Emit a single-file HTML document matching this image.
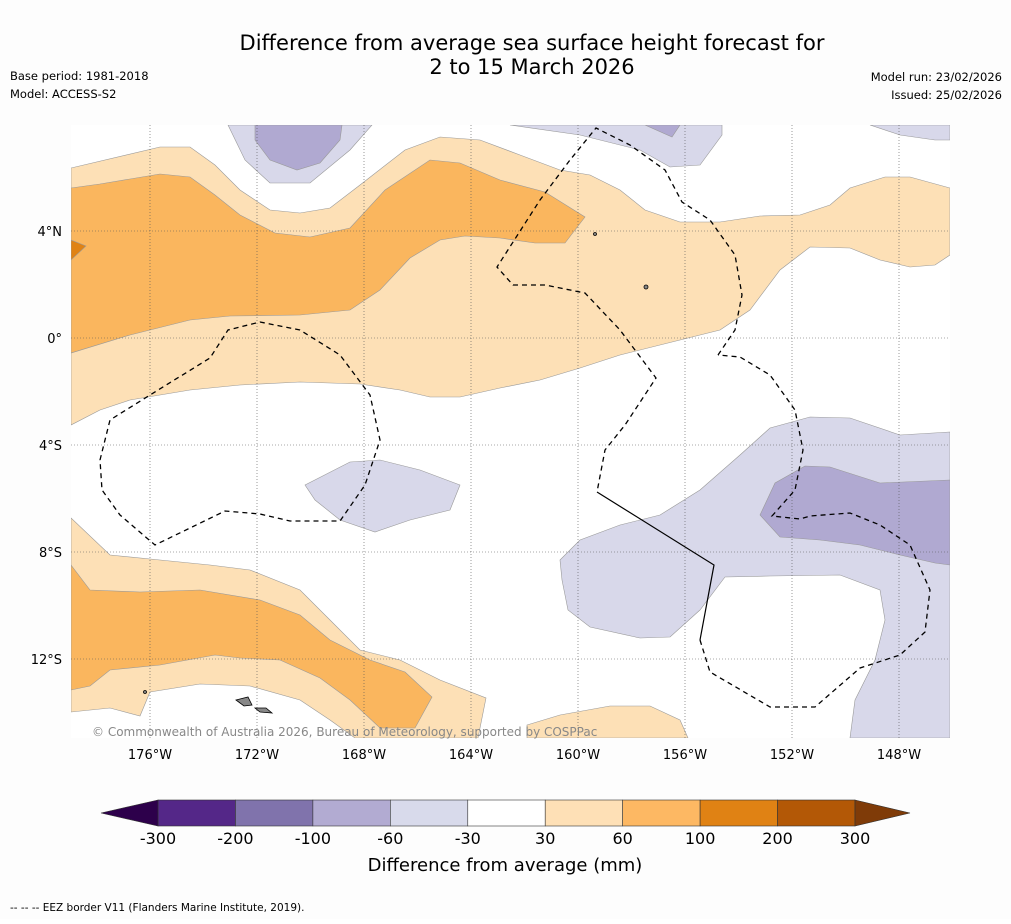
<!DOCTYPE html>
<html><head><meta charset="utf-8"><style>
body{margin:0;background:#fff;font-family:"Liberation Sans","DejaVu Sans",sans-serif}
svg text{font-family:"DejaVu Sans","Liberation Sans",sans-serif}
</style></head><body>
<svg id="chart" width="1011" height="919" viewBox="0 0 1011 919" xmlns="http://www.w3.org/2000/svg">
<rect width="1011" height="919" fill="#fdfdfd"/>
<text x="532" y="50" font-size="21" text-anchor="middle">Difference from average sea surface height forecast for</text>
<text x="532" y="74" font-size="21" text-anchor="middle">2 to 15 March 2026</text>
<text x="10" y="80" font-size="11.5">Base period: 1981-2018</text>
<text x="10" y="98" font-size="11.5">Model: ACCESS-S2</text>
<text x="1002" y="81" font-size="11.5" text-anchor="end">Model run: 23/02/2026</text>
<text x="1002" y="99" font-size="11.5" text-anchor="end">Issued: 25/02/2026</text>
<defs><clipPath id="mc"><rect x="71" y="125" width="879" height="613"/></clipPath></defs>
<g id="map" clip-path="url(#mc)">
<rect x="71" y="125" width="879" height="613" fill="#fff"/>
<g stroke="#999" stroke-width="0.6">
<path fill="#fde0b6" d="M71,168 L160,147 190,147 215,165 240,190 270,210 300,213 330,208 360,185 405,150 440,137 480,140 520,155 560,170 590,175 620,190 645,210 680,222 720,222 760,216 800,215 830,205 850,188 885,177 910,177 950,188 950,255 935,265 910,267 880,260 850,248 810,247 780,270 750,310 720,330 680,340 620,355 580,368 540,380 500,388 460,397 430,397 400,390 360,384 300,382 240,385 190,390 130,400 100,410 71,425Z"/>
<path fill="#fab65e" d="M71,188 L100,184 160,174 190,177 215,195 240,215 275,233 310,237 350,228 385,190 430,160 460,163 500,180 545,192 585,217 565,243 535,243 500,238 465,236 440,240 410,258 380,290 350,310 300,315 230,316 190,320 130,335 71,353Z"/>
<path fill="#e08214" d="M71,240 L86,246 71,260Z"/>
<path fill="#fde0b6" d="M71,518 L110,555 160,560 210,565 250,570 300,590 330,620 360,650 400,660 440,680 486,698 478,738 355,738 330,720 300,700 250,686 200,684 150,692 140,716 110,708 71,712Z"/>
<path fill="#fab65e" d="M71,565 L90,590 140,592 200,590 260,600 300,615 330,640 370,660 405,672 432,697 415,728 380,728 350,700 320,678 280,660 240,658 215,655 160,665 110,670 90,686 71,690Z"/>
<path fill="#fde0b6" d="M527,725 L560,715 610,706 650,706 680,720 688,738 527,738Z"/>
<path fill="#d8d8ea" d="M228,125 L372,125 350,150 310,183 270,183 245,160Z"/>
<path fill="#b0a9d1" d="M255,125 L342,125 340,140 320,163 297,170 270,160 255,140Z"/>
<path fill="#d8d8ea" d="M510,125 L722,125 722,135 700,165 670,167 640,150 580,135Z"/>
<path fill="#b0a9d1" d="M645,125 L680,125 672,137Z"/>
<path fill="#d8d8ea" d="M870,125 L950,125 950,140 935,140 900,135Z"/>
<path fill="#d8d8ea" d="M305,485 L350,462 380,460 420,470 460,485 450,510 410,520 375,532 340,520 315,500Z"/>
<path fill="#d8d8ea" d="M560,560 L580,540 620,525 660,515 700,490 740,455 770,428 810,417 850,418 900,435 950,432 950,738 850,738 855,700 875,660 885,620 880,590 840,575 770,576 725,577 700,610 670,637 640,638 590,627 568,610 562,580Z"/>
<path fill="#b0a9d1" d="M760,515 L775,483 805,466 830,467 880,483 950,480 950,565 935,563 900,555 860,545 820,540 780,537Z"/>
</g>
<g id="grid" stroke="#555" stroke-width="0.6" stroke-dasharray="1,2"></g>
<g fill="none" stroke="#000" stroke-width="1.3" stroke-dasharray="5,4">
<path d="M100,460 L110,420 150,395 210,358 228,330 260,322 300,330 340,355 370,395 380,440 365,485 340,521 290,521 260,514 225,511 155,545 120,515 102,490Z"/>
<path d="M718,355 L735,330 742,295 735,255 710,220 682,202 665,170 630,145 596,128 570,160 540,200 497,267 513,285 545,285 585,293 620,330 656,378 625,425 605,450 597,492"/>
<path d="M700,640 L710,672 770,707 815,707 860,668 900,655 925,632 930,590 910,545 880,525 850,513 810,516 800,519 772,516 795,490 803,450 795,410 770,375 740,357 718,355"/>
</g>
<path d="M597,492 L714,565 700,640" fill="none" stroke="#000" stroke-width="1.2"/>
<g fill="#888" stroke="#000" stroke-width="0.8">
<path d="M236,700 L248,697 252,705 244,706Z"/>
<path d="M255,708 L266,708 272,713 260,712Z"/>
<circle cx="646" cy="287" r="2"/><circle cx="595" cy="234" r="1.5"/><circle cx="145" cy="692" r="1.5"/>
</g>
</g>
<g id="ticks" font-size="13"></g>
<text x="92" y="736" font-size="12" fill="#888">© Commonwealth of Australia 2026, Bureau of Meteorology, supported by COSPPac</text>
<g id="cbar"></g>
<text x="505" y="871" font-size="18" text-anchor="middle">Difference from average (mm)</text>
<text x="10" y="911" font-size="10.5">--  --  -- EEZ border V11 (Flanders Marine Institute, 2019).</text>
</svg>
<script>
const lonTicks=[176,172,168,164,160,156,152,148];
const latTicks=[4,0,-4,-8,-12];
const levels=[-300,-200,-100,-60,-30,30,60,100,200,300];
const colors=["#542788","#8073ac","#b2abd2","#d8daeb","#ffffff","#fee0b6","#fdb863","#e08214","#b35806"];
const extColors=["#2d004b","#7f3b08"];
const NS="http://www.w3.org/2000/svg";
function mk(t,a,p){const e=document.createElementNS(NS,t);for(const k in a)e.setAttribute(k,a[k]);p.appendChild(e);return e;}
const xLon=w=>150+(176-w)*26.75;
const yLat=l=>338-l*26.75;
const grid=document.getElementById('grid'),ticks=document.getElementById('ticks');
lonTicks.forEach(w=>{const x=xLon(w);
const l=mk('line',{x1:x,x2:x,y1:125,y2:738},grid);


const t=mk('text',{x:x,y:759,'text-anchor':'middle'},ticks);t.textContent=w+'°W';

});
latTicks.forEach(v=>{const y=yLat(v);
const l=mk('line',{x1:71,x2:950,y1:y,y2:y},grid);


const t=mk('text',{x:62,y:y+5,'text-anchor':'end'},ticks);t.textContent=v===0?'0°':Math.abs(v)+'°'+(v>0?'N':'S');

});
const cb=document.getElementById('cbar');
const x0=158,x1=855,n=colors.length,w=(x1-x0)/n,y0=800,h=26;
const cx=i=>x0+i*w;
colors.forEach((c,i)=>{const r=mk('rect',{x:cx(i),y:y0,width:w,height:h,fill:c,stroke:'#333','stroke-width':0.6},cb);

});
const a=mk('polygon',{points:`${x0},${y0} ${x0-57},${y0+h/2} ${x0},${y0+h}`,fill:extColors[0],stroke:'#333','stroke-width':0.6},cb);


const b=mk('polygon',{points:`${x1},${y0} ${x1+55},${y0+h/2} ${x1},${y0+h}`,fill:extColors[1],stroke:'#333','stroke-width':0.6},cb);


levels.forEach((v,i)=>{const t=mk('text',{x:cx(i),y:844,'text-anchor':'middle','font-size':16},cb);t.textContent=v;

});
</script>
</body></html>
